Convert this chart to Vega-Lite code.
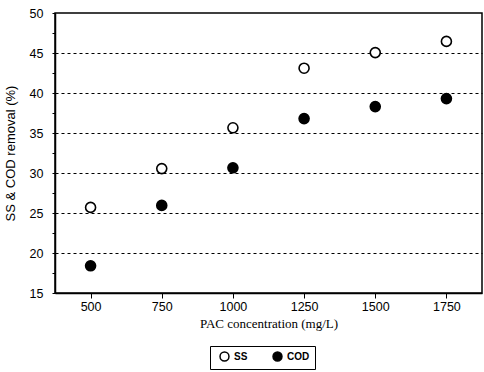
{
  "$schema": "https://vega.github.io/schema/vega-lite/v6.json",
  "autosize": "none",
  "width": 427,
  "height": 280,
  "padding": {"left": 55, "top": 13, "right": 2, "bottom": 79},
  "background": "white",
  "config": {
    "view": {"stroke": "black", "strokeWidth": 1.5},
    "axis": {"labelFont": "Liberation Sans", "labelFontSize": 12.5, "labelColor": "black", "titleColor": "black", "domainColor": "black", "tickColor": "black"}
  },
  "data": {
    "values": [
      {"conc": 500, "series": "SS", "value": 25.7},
      {"conc": 750, "series": "SS", "value": 30.55},
      {"conc": 1000, "series": "SS", "value": 35.65},
      {"conc": 1250, "series": "SS", "value": 43.1},
      {"conc": 1500, "series": "SS", "value": 45.05},
      {"conc": 1750, "series": "SS", "value": 46.45},
      {"conc": 500, "series": "COD", "value": 18.4},
      {"conc": 750, "series": "COD", "value": 25.95},
      {"conc": 1000, "series": "COD", "value": 30.65},
      {"conc": 1250, "series": "COD", "value": 36.8},
      {"conc": 1500, "series": "COD", "value": 38.3},
      {"conc": 1750, "series": "COD", "value": 39.3}
    ]
  },
  "mark": {"type": "point", "shape": "circle", "size": 100, "stroke": "black", "strokeWidth": 1.6, "opacity": 1},
  "encoding": {
    "x": {
      "field": "conc", "type": "quantitative",
      "scale": {"domain": [375, 1875], "nice": false, "zero": false},
      "axis": {
        "values": [500, 750, 1000, 1250, 1500, 1750],
        "format": "d",
        "grid": false, "domainWidth": 1.5, "tickSize": 5, "tickOffset": 0,
        "labelPadding": 2,
        "title": "PAC concentration (mg/L)",
        "titleFont": "Liberation Serif", "titleFontSize": 13, "titleFontWeight": "normal",
        "titlePadding": 5
      }
    },
    "y": {
      "field": "value", "type": "quantitative",
      "scale": {"domain": [15, 50], "nice": false, "zero": false},
      "axis": {
        "values": [15, 17.5, 20, 22.5, 25, 27.5, 30, 32.5, 35, 37.5, 40, 42.5, 45, 47.5, 50],
        "labelExpr": "datum.value % 5 === 0 ? datum.label : ''",
        "grid": true, "gridColor": "black", "gridDash": [3, 3], "gridWidth": 1.2,
        "gridOpacity": {"expr": "datum.value % 5 === 0 && datum.value > 15 && datum.value < 50 ? 1 : 0"},
        "domainWidth": 1.5, "tickSize": 3, "labelPadding": 9,
        "title": "SS & COD removal (%)",
        "titleFont": "Liberation Sans", "titleFontSize": 13, "titleFontWeight": "normal",
        "titlePadding": 12
      }
    },
    "fill": {
      "field": "series", "type": "nominal",
      "scale": {"domain": ["SS", "COD"], "range": ["white", "black"]},
      "legend": {
        "title": null, "orient": "none", "direction": "horizontal",
        "legendX": 155, "legendY": 333,
        "strokeColor": "black", "padding": 5,
        "symbolType": "circle", "symbolSize": 80, "symbolStrokeColor": "black", "symbolStrokeWidth": 1.5,
        "labelFont": "Liberation Sans", "labelFontSize": 10, "labelFontWeight": "bold", "labelColor": "black",
        "columnPadding": 20, "symbolOffset": 4
      }
    }
  }
}
